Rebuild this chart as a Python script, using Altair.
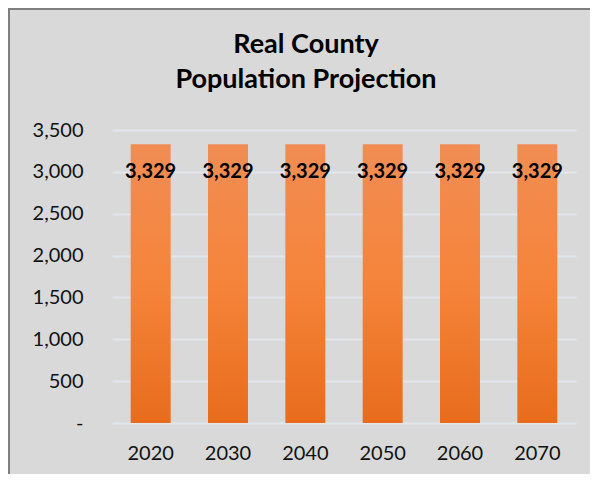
import altair as alt
import pandas as pd

years = ["2020", "2030", "2040", "2050", "2060", "2070"]
population = [3329, 3329, 3329, 3329, 3329, 3329]
y_ticks = [0, 500, 1000, 1500, 2000, 2500, 3000, 3500]
title_lines = ["Real County", "Population Projection"]

df = pd.DataFrame({"year": years, "pop": population})

FONT = "Lato"

gradient = alt.Gradient(
    gradient="linear",
    x1=0, y1=0, x2=0, y2=1,
    stops=[
        alt.GradientStop(color="#f18d54", offset=0),
        alt.GradientStop(color="#f5843a", offset=0.5),
        alt.GradientStop(color="#e86c1c", offset=1),
    ],
)

x_enc = alt.X(
    "year:N",
    sort=years,
    title=None,
    scale=alt.Scale(paddingInner=0.483, paddingOuter=0.2415),
    axis=alt.Axis(
        labelAngle=0, domain=False, ticks=False, labelPadding=20,
        labelFont=FONT, labelFontSize=20, labelColor="#111111", grid=False,
    ),
)
y_enc = alt.Y(
    "pop:Q",
    title=None,
    scale=alt.Scale(domain=[0, 3500], nice=False),
    axis=alt.Axis(
        values=y_ticks, domain=False, ticks=False, labelPadding=29,
        labelFont=FONT, labelFontSize=20, labelColor="#111111",
        labelExpr="datum.value == 0 ? '-\u00a0\u00a0\u00a0' : format(datum.value, ',')",
        grid=True, gridColor="#e3e6eb", gridWidth=2,
    ),
)

bars = alt.Chart(df).mark_bar(color=gradient).encode(x=x_enc, y=y_enc)

labels = alt.Chart(df).mark_text(
    font=FONT, fontSize=20, fontWeight="bold", color="#000000",
    baseline="middle", dy=28,
).encode(
    x=alt.X("year:N", sort=years),
    y=alt.Y("pop:Q"),
    text=alt.Text("pop:Q", format=","),
)

title1 = alt.Chart(alt.Data(values=[{"t": title_lines[0]}])).mark_text(
    font=FONT, fontSize=27, fontWeight="bold", color="#000000",
    baseline="middle", align="center",
).encode(x=alt.value(194), y=alt.value(-85), text="t:N")

title2 = alt.Chart(alt.Data(values=[{"t": title_lines[1]}])).mark_text(
    font=FONT, fontSize=27, fontWeight="bold", color="#000000",
    baseline="middle", align="center",
).encode(x=alt.value(194), y=alt.value(-50), text="t:N")

border = alt.Chart(alt.Data(values=[{"a": 1}])).mark_rect(
    fill="transparent", stroke="#7f7f7f", strokeWidth=2
).encode(
    x=alt.value(-103), x2=alt.value(700),
    y=alt.value(-121), y2=alt.value(600),
)

chart = alt.layer(bars, labels, title1, title2, border).properties(
    width=464,
    height=293,
    padding={"left": 104, "top": 122, "right": 14, "bottom": 51},
    autosize=alt.AutoSizeParams(type="none"),
    background="#d9d9d9",
).configure_view(stroke=None)

chart.save("out.html", embed_options={"renderer": "svg", "actions": False})
